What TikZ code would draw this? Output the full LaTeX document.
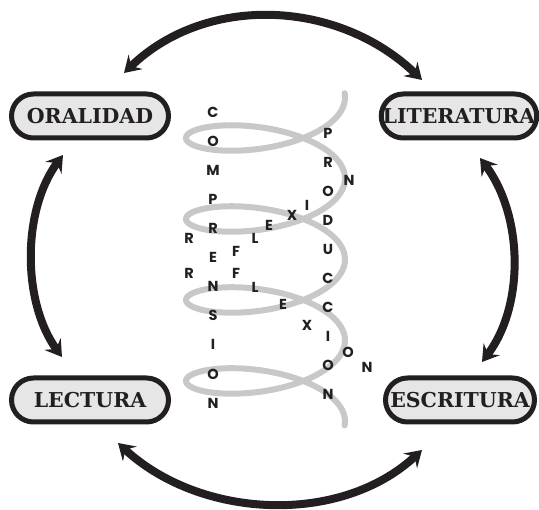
\documentclass[tikz,border=0pt]{standalone}
\usepackage{fontspec}
\usetikzlibrary{arrows.meta,shapes.misc}
\newfontfamily\helixfont{Poppins}
\newfontfamily\boxfont{DejaVu Serif}
\definecolor{ink}{RGB}{35,31,32}
\definecolor{helixgray}{RGB}{200,200,200}
\definecolor{boxfill}{RGB}{230,230,230}
\tikzset{
  stage/.style={rounded rectangle,draw=ink,line width=5pt,fill=boxfill,
    minimum width=159pt,minimum height=44pt,inner xsep=1pt,text=ink,
    font=\boxfont\fontsize{20.5}{21}\selectfont\bfseries},
  letter/.style={text=ink,inner sep=0pt,font=\helixfont\fontsize{14.5}{15}\selectfont\bfseries},
  cycle/.style={ink,line width=8pt,{Stealth[length=16pt,width=20pt,inset=6pt]}-{Stealth[length=16pt,width=20pt,inset=6pt]}}
}
\begin{document}
\begin{tikzpicture}[x=1pt,y=-1pt]
  \useasboundingbox (0,0) rectangle (539,510);
  % spiral
  \draw[helixgray,line width=6pt,line cap=round]
    plot[domain=-0.1:25.23,samples=400,smooth,variable=\t]
    ({265.5+79.5*cos(\t r)},{97.5+12.89*\t+30.2*sin(\t r)});
  % boxes
  \node[stage] (oral) at (90,116) {ORALIDAD};
  \node[stage,minimum width=151pt,inner xsep=0pt] (lit) at (459,116) {LITERATURA};
  \node[stage] (lect) at (90,400) {LECTURA};
  \node[stage,minimum width=151pt] (escr) at (460,400) {ESCRITURA};
  % letters
  \foreach \ch [count=\i from 0] in {C,O,M,P,R,E,N,S,I,O,N}
    \node[letter] (comp\i) at (213,{112+29.1*\i}) {\ch};
  \foreach \ch [count=\i from 0] in {P,R,O,D,U,C,C,I,O,N}
    \node[letter] (prod\i) at (328,{133+29*\i}) {\ch};
  \foreach \ch/\px/\py [count=\i] in {R/189/238,F/236/251,L/255/238,E/269/225,X/292/215,I/307/205,N/349/180}
    \node[letter] (refa\i) at (\px,\py) {\ch};
  \foreach \ch/\px/\py [count=\i] in {R/189/273,F/236/273,L/255/287,E/283/304,X/307/325,O/348/352,N/367/367}
    \node[letter] (refb\i) at (\px,\py) {\ch};
  % cycle arrows
  \coordinate (oralT) at (124,73);
  \coordinate (litT) at (422,80);
  \coordinate (litB) at (480,158);
  \coordinate (escrT) at (482,362);
  \coordinate (escrB) at (422,450);
  \coordinate (lectB) at (118,443);
  \coordinate (lectT) at (62,357);
  \coordinate (oralB) at (63,155);
  \draw[cycle] (oralT) .. controls (207,-7) and (339,0) .. (litT);
  \draw[cycle] (litB) .. controls (523,215) and (525,305) .. (escrT);
  \draw[cycle] (escrB) .. controls (340,526) and (200,519) .. (lectB);
  \draw[cycle] (lectT) .. controls (22,302) and (22,210) .. (oralB);
\end{tikzpicture}
\end{document}
